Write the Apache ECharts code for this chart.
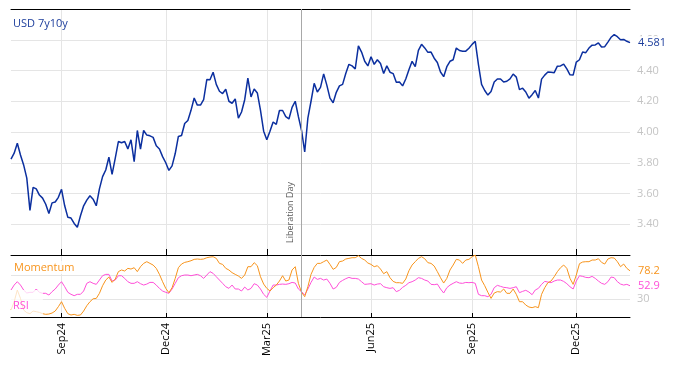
<!DOCTYPE html>
<html><head><meta charset="utf-8">
<script src="https://cdn.jsdelivr.net/npm/echarts@6/dist/echarts.min.js"></script>
<style>html,body{margin:0;padding:0;background:#fff}#c{width:674px;height:366px}</style>
</head><body><div id="c"></div>
<script>
// ---- data (every 2nd business day starting 2024-07-18) ----
const startDate = '2024-07-18';
const stepBusinessDays = 2;
const seriesName = 'USD 7y10y';
const usd = [
3.823,3.862,3.927,3.85,3.786,3.70,3.49,3.64,3.63,3.59,
3.57,3.53,3.47,3.539,3.545,3.575,3.627,3.52,3.445,3.44,
3.405,3.38,3.455,3.52,3.557,3.585,3.563,3.52,3.63,3.71,
3.753,3.836,3.725,3.829,3.938,3.93,3.938,3.89,3.949,3.807,
4.01,3.888,4.01,3.98,3.975,3.965,3.91,3.89,3.84,3.80,
3.75,3.78,3.86,3.971,3.977,4.055,4.075,4.141,4.221,4.175,
4.175,4.21,4.341,4.34,4.389,4.31,4.265,4.25,4.278,4.20,
4.187,4.215,4.09,4.13,4.21,4.35,4.228,4.28,4.254,4.14,
4.005,3.95,4.005,4.065,4.05,4.14,4.14,4.10,4.085,4.16,
4.20,4.10,4.01,3.87,4.09,4.20,4.317,4.26,4.29,4.378,
4.305,4.22,4.19,4.258,4.30,4.31,4.38,4.44,4.43,4.41,
4.56,4.52,4.46,4.43,4.49,4.44,4.47,4.445,4.38,4.43,
4.389,4.38,4.324,4.325,4.30,4.345,4.405,4.46,4.425,4.531,
4.57,4.547,4.518,4.52,4.48,4.452,4.39,4.36,4.425,4.46,
4.47,4.546,4.53,4.525,4.526,4.545,4.57,4.59,4.44,4.31,
4.27,4.24,4.263,4.325,4.345,4.345,4.325,4.33,4.345,4.377,
4.357,4.276,4.285,4.26,4.22,4.243,4.27,4.221,4.344,4.37,
4.39,4.388,4.386,4.428,4.43,4.442,4.41,4.372,4.37,4.455,
4.47,4.52,4.516,4.546,4.565,4.566,4.579,4.553,4.555,4.585,
4.616,4.633,4.62,4.60,4.602,4.59,4.581
];
const momentum = [
11.8,25.9,45.7,31.5,11.8,7.3,5.6,10.1,9.0,7.8,
5.6,4.5,5.0,6.7,10.1,17.5,25.9,14.6,5.6,3.4,
4.5,2.8,3.4,10.1,19.1,25.9,30.9,31.5,40.1,53.0,
62.6,67.7,58.6,64.3,76.8,79.6,77.9,82.4,81.2,83.5,
76.8,85.2,90.8,93.7,90.8,88.0,82.4,72.2,59.8,48.5,
41.2,49.6,65.4,83.5,89.7,92.5,93.7,95.3,97.6,98.2,
97.6,98.2,100.4,101.5,102.1,99.3,90.8,89.1,82.4,79.6,
75.1,72.2,69.4,65.4,71.1,85.2,85.2,92.0,86.9,68.2,
55.8,48.5,44.0,49.6,54.1,60.9,69.9,60.9,62.6,79.6,
85.2,57.0,41.8,34.4,51.3,72.2,84.0,90.8,90.8,93.7,
96.5,89.1,80.7,84.0,93.7,94.8,98.2,99.3,100.4,100.4,
103.8,99.3,96.5,91.4,89.1,85.2,86.9,81.2,73.3,76.8,
66.6,60.3,58.1,58.1,57.0,64.3,78.4,88.0,93.7,99.3,
102.1,98.7,92.0,90.8,86.3,76.8,66.6,57.5,65.4,79.6,
88.0,97.6,96.5,90.8,96.5,97.6,102.1,104.9,85.2,62.6,
53.0,41.8,31.5,40.6,42.9,42.3,47.4,40.1,40.1,47.4,
38.4,25.9,25.9,20.2,16.9,15.8,17.5,15.8,38.4,49.6,
58.1,60.9,68.2,76.8,83.5,88.0,82.4,65.4,55.3,71.1,
90.3,93.1,93.7,93.7,96.5,96.5,98.7,92.5,89.7,98.2,
100.4,99.9,93.7,85.2,89.7,82.4,78.2
];
const rsi = [
45.7,54.1,59.8,54.1,45.7,40.6,41.8,41.8,47.4,41.8,
40.1,40.1,37.2,42.9,47.4,54.1,59.8,51.3,41.8,38.4,
36.1,38.4,38.4,44.0,57.0,59.8,57.0,55.3,62.6,69.9,
72.2,72.2,60.9,62.6,69.9,69.9,65.4,59.8,57.0,57.0,
59.8,56.4,54.1,55.8,58.6,58.6,54.1,48.5,44.0,41.8,
40.1,47.4,57.0,66.6,69.9,71.1,71.1,69.9,71.1,72.2,
69.9,65.4,71.1,76.8,73.9,68.2,62.6,57.0,51.3,48.5,
54.1,47.4,47.4,44.0,50.7,45.7,48.5,56.4,54.1,47.4,
38.4,33.3,44.0,54.1,54.1,55.3,55.8,55.3,56.4,58.6,
57.5,47.4,42.9,37.2,47.4,58.6,67.7,63.7,65.4,62.6,
64.3,57.0,47.4,50.2,58.6,62.0,64.9,67.1,65.4,65.4,
64.3,59.8,55.3,55.8,56.4,54.1,55.8,56.4,51.3,49.6,
48.5,49.6,42.9,45.2,50.2,53.6,58.1,59.8,62.6,66.6,
65.4,62.6,60.9,55.3,54.7,55.8,47.4,40.6,49.6,54.1,
57.0,59.8,57.5,57.0,58.6,58.1,58.6,57.0,38.4,36.1,
36.1,34.4,38.4,49.6,53.6,51.9,50.2,49.6,48.5,49.6,
51.3,41.2,43.4,45.2,42.3,37.8,45.7,48.5,55.3,60.3,
59.2,58.1,60.9,62.6,62.6,60.3,56.4,51.3,47.4,60.9,
69.9,68.8,67.1,66.6,68.8,65.4,60.9,57.0,55.3,59.8,
67.7,66.6,59.8,55.8,54.1,55.3,52.9
];
const eventDate = '2025-04-02';
const eventLabel = 'Liberation Day';
const tickMonths = [3, 6, 9, 12];           // Mar, Jun, Sep, Dec
const monthNames = ['Jan','Feb','Mar','Apr','May','Jun','Jul','Aug','Sep','Oct','Nov','Dec'];
const rsiLevels = [30, 70];
const rsiLevelLabels = [30];

// ---- x categories: business days ----
function buildDates(start, n, step) {
  const out = [];
  const d = new Date(start + 'T00:00:00Z');
  let count = 0;
  while (out.length < n) {
    const wd = d.getUTCDay();
    if (wd !== 0 && wd !== 6) {
      if (count % step === 0) out.push(d.toISOString().slice(0, 10));
      count++;
    }
    d.setUTCDate(d.getUTCDate() + 1);
  }
  return out;
}
const dates = buildDates(startDate, usd.length, stepBusinessDays);
const monthOf = s => +s.slice(5, 7);
function isTick(i) {
  if (i === 0) return false;
  const m = monthOf(dates[i]);
  return m !== monthOf(dates[i - 1]) && tickMonths.includes(m);
}
const tickFn = (i) => isTick(i);
const fmtDate = v => monthNames[monthOf(v) - 1] + v.slice(2, 4);
const eventCat = dates.find(d => d >= eventDate);

const FONT = 'Open Sans';
const gridGrey = '#e5e5e5';
const blue = '#0b2f9f';
const orange = '#f7941d';
const pink = '#ff4fd8';

// split line colours for RSI axis (ticks every 10 from 0 to 105)
const rsiTicks = [];
for (let v = 0; v <= 100; v += 10) rsiTicks.push(v);
rsiTicks.push(105);
const rsiLineColors = rsiTicks.map(v => rsiLevels.includes(v) ? gridGrey : 'rgba(0,0,0,0)');

const chart = echarts.init(document.getElementById('c'), null, {renderer: 'canvas'});
chart.setOption({
  animation: false,
  textStyle: {fontFamily: FONT},
  title: {
    text: seriesName, left: 8, top: 13,
    textStyle: {color: '#1c3d9c', fontSize: 11, fontWeight: 'normal', fontFamily: FONT}
  },
  grid: [
    {left: 11, right: 44, top: 9, height: 246},
    {left: 11, right: 44, top: 255, height: 62}
  ],
  xAxis: [
    {
      type: 'category', gridIndex: 0, data: dates, boundaryGap: false, position: 'bottom',
      axisLine: {lineStyle: {color: '#000', width: 1}},
      axisTick: {inside: true, length: 6, interval: tickFn, lineStyle: {color: '#000'}},
      axisLabel: {show: false},
      splitLine: {show: true, interval: tickFn, lineStyle: {color: gridGrey}}
    },
    {
      type: 'category', gridIndex: 0, data: dates, boundaryGap: false, position: 'top',
      axisLine: {lineStyle: {color: '#000', width: 1}},
      axisTick: {show: false}, axisLabel: {show: false}, splitLine: {show: false}
    },
    {
      type: 'category', gridIndex: 1, data: dates, boundaryGap: false, position: 'bottom',
      axisLine: {lineStyle: {color: '#000', width: 1}},
      axisTick: {inside: true, length: 4, interval: tickFn, lineStyle: {color: '#000'}},
      axisLabel: {interval: tickFn, rotate: 90, formatter: fmtDate, color: '#000', fontSize: 11, margin: 6, fontFamily: FONT},
      splitLine: {show: true, interval: tickFn, lineStyle: {color: gridGrey}}
    }
  ],
  yAxis: [
    {
      type: 'value', gridIndex: 0, position: 'right', min: 3.2, max: 4.8, interval: 0.2,
      axisLine: {show: false}, axisTick: {show: false},
      axisLabel: {color: '#c4c4c4', fontSize: 11, margin: 7, showMinLabel: false, showMaxLabel: false,
                  formatter: v => v.toFixed(2), fontFamily: FONT},
      splitLine: {lineStyle: {color: gridGrey}}
    },
    {
      type: 'value', gridIndex: 1, position: 'right', min: 0, max: 105, interval: 10,
      axisLine: {show: false}, axisTick: {show: false},
      axisLabel: {color: '#c4c4c4', fontSize: 11, margin: 7, showMinLabel: false, showMaxLabel: false,
                  formatter: v => rsiLevelLabels.includes(v) ? String(v) : '', fontFamily: FONT},
      splitLine: {lineStyle: {color: rsiLineColors}}
    }
  ],
  series: [
    {
      name: seriesName, type: 'line', xAxisIndex: 0, yAxisIndex: 0, data: usd,
      showSymbol: false, symbol: 'none', lineStyle: {color: blue, width: 1.5}, z: 3,
      endLabel: {show: true, formatter: p => p.value.toFixed(3), color: '#1c3d9c', fontSize: 11,
                 distance: 6, backgroundColor: '#fff', padding: [1, 2], fontFamily: FONT},
      markLine: {
        silent: true, symbol: 'none', animation: false,
        lineStyle: {color: '#a8a8a8', type: 'solid', width: 1},
        label: {show: true, formatter: eventLabel, position: 'insideStartTop', color: '#5a5a5a',
                fontSize: 9, distance: [12, 7], fontFamily: FONT},
        data: [{xAxis: eventCat}]
      }
    },
    {
      name: 'Momentum', type: 'line', xAxisIndex: 2, yAxisIndex: 1, data: momentum,
      showSymbol: false, symbol: 'none', lineStyle: {color: orange, width: 1}, z: 3,
      endLabel: {show: true, formatter: p => p.value.toFixed(1), color: orange, fontSize: 11,
                 distance: 6, backgroundColor: '#fff', padding: [1, 2], fontFamily: FONT}
    },
    {
      name: 'RSI', type: 'line', xAxisIndex: 2, yAxisIndex: 1, data: rsi,
      showSymbol: false, symbol: 'none', lineStyle: {color: pink, width: 1}, z: 2,
      endLabel: {show: true, formatter: p => p.value.toFixed(1), color: pink, fontSize: 11,
                 distance: 6, backgroundColor: '#fff', padding: [1, 2], fontFamily: FONT},
      markLine: {
        silent: true, symbol: 'none', animation: false,
        lineStyle: {color: '#a8a8a8', type: 'solid', width: 1},
        label: {show: false},
        data: [{xAxis: eventCat}]
      }
    }
  ],
  graphic: [
    {type: 'text', left: 12, top: 261, z: 100,
     style: {text: 'Momentum', fill: orange, font: '11px "Open Sans"',
             backgroundColor: 'rgba(255,255,255,0.75)', padding: [1, 2]}},
    {type: 'text', left: 11, top: 290, z: 100,
     style: {text: 'RSI', fill: pink, font: '11px "Open Sans"',
             backgroundColor: 'rgba(255,255,255,0.75)', padding: [10, 14, 5, 2]}}
  ]
});
</script>
</body></html>
